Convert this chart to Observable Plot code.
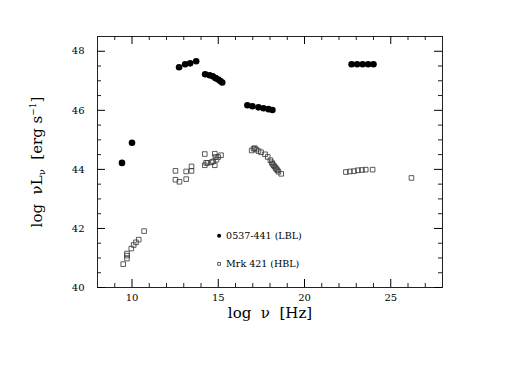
<!DOCTYPE html>
<html><head><meta charset="utf-8">
<script src="https://cdn.jsdelivr.net/npm/d3@7"></script>
<script src="https://cdn.jsdelivr.net/npm/@observablehq/plot@0.6"></script>
<style>body{margin:0;background:#fff}</style>
</head><body><div id="chart"></div>
<script>
// 0537-441 (LBL) — filled circles
const lblNu = [9.42, 10.0, 12.73, 13.08, 13.37, 13.72, 14.24, 14.50, 14.68, 14.85, 15.0, 15.12, 15.23, 16.69, 16.98, 17.33, 17.62, 17.91, 18.14, 22.73, 23.05, 23.37, 23.69, 24.0];
const lblL  = [44.22, 44.90, 47.46, 47.56, 47.59, 47.66, 47.22, 47.19, 47.15, 47.09, 47.04, 46.99, 46.94, 46.17, 46.14, 46.10, 46.07, 46.04, 46.01, 47.56, 47.56, 47.56, 47.56, 47.56];
// Mrk 421 (HBL) — open squares
const hblNu = [9.49, 9.71, 9.71, 9.71, 9.96, 10.10, 10.23, 10.39, 10.70,
  12.52, 12.52, 12.75, 13.14, 13.14, 13.45, 13.45, 14.22, 14.22, 14.30, 14.38, 14.62, 14.70, 14.80, 14.80, 14.84, 14.90, 15.0, 15.16,
  16.94, 17.05, 17.12, 17.21, 17.33, 17.48, 17.71, 17.87, 18.02, 18.10, 18.14, 18.20, 18.26, 18.32, 18.37, 18.43, 18.49, 18.65,
  22.40, 22.63, 22.87, 23.10, 23.33, 23.55, 23.95,
  26.2];
const hblL  = [40.79, 41.15, 41.08, 40.98, 41.32, 41.44, 41.53, 41.62, 41.91,
  43.95, 43.65, 43.58, 43.93, 43.67, 44.10, 43.95, 44.52, 44.14, 44.22, 44.22, 44.24, 44.27, 44.53, 44.14, 44.42, 44.33, 44.42, 44.48,
  44.64, 44.70, 44.72, 44.67, 44.62, 44.58, 44.51, 44.42, 44.31, 44.24, 44.19, 44.14, 44.10, 44.05, 44.01, 43.97, 43.92, 43.85,
  43.91, 43.93, 43.94, 43.97, 43.98, 43.99, 43.99,
  43.71];
// ticks
const xMajor = [10, 15, 20, 25];
const xMinor = [9, 11, 12, 13, 14, 16, 17, 18, 19, 21, 22, 23, 24, 26, 27];
const yMajor = [40, 42, 44, 46, 48];
const yMinor = [40.5, 41, 41.5, 42.5, 43, 43.5, 44.5, 45, 45.5, 46.5, 47, 47.5];
// legend
const legendLabels = ["0537-441 (LBL)", "Mrk 421 (HBL)"];
const legendNu = [15.05, 15.05];
const legendL = [41.75, 40.80];
const xTitle = "log  ν  [Hz]";
const yTitle = "log νLν [erg s-1]";

const lbl = lblNu.map((x, i) => ({x, y: lblL[i]}));
const hbl = hblNu.map((x, i) => ({x, y: hblL[i]}));

const W = 518, H = 365, mL = 97, mR = 76, mT = 36, mB = 78;
const fh = H - mT - mB, fw = W - mL - mR;
const font = "'DejaVu Serif', serif";

const plot = Plot.plot({
  width: W, height: H,
  marginLeft: mL, marginRight: mR, marginTop: mT, marginBottom: mB,
  x: {domain: [8, 28]},
  y: {domain: [40, 48.5]},
  style: {fontFamily: font, fontSize: "10px", background: "#fff", color: "#000"},
  marks: [
    Plot.frame({stroke: "#222", strokeWidth: 1}),
    // inward ticks
    Plot.tickX(xMinor, {x: d => d, insetTop: fh - 4, stroke: "#222"}),
    Plot.tickX(xMinor, {x: d => d, insetBottom: fh - 4, stroke: "#222"}),
    Plot.tickX(xMajor, {x: d => d, insetTop: fh - 8, stroke: "#000"}),
    Plot.tickX(xMajor, {x: d => d, insetBottom: fh - 8, stroke: "#000"}),
    Plot.tickY(yMinor, {y: d => d, insetRight: fw - 4, stroke: "#222"}),
    Plot.tickY(yMinor, {y: d => d, insetLeft: fw - 4, stroke: "#222"}),
    Plot.tickY(yMajor, {y: d => d, insetRight: fw - 8, stroke: "#000"}),
    Plot.tickY(yMajor, {y: d => d, insetLeft: fw - 8, stroke: "#000"}),
    Plot.axisX(xMajor, {tickSize: 0, tickPadding: 6, fontSize: 10, label: null}),
    Plot.axisY(yMajor, {tickSize: 0, tickPadding: 13, fontSize: 10, label: null}),
    // data
    Plot.dot(hbl, {x: "x", y: "y", symbol: "square", r: 2.6, stroke: "#333", strokeWidth: 0.8, fill: "none"}),
    Plot.dot(lbl, {x: "x", y: "y", r: 3.3, fill: "#000", stroke: "none"}),
    // legend
    Plot.dot([0], {x: legendNu[0], y: legendL[0], r: 2, fill: "#000"}),
    Plot.dot([1], {x: legendNu[1], y: legendL[1], symbol: "square", r: 1.6, stroke: "#333", strokeWidth: 0.8, fill: "none"}),
    Plot.text(legendLabels, {x: legendNu, y: legendL, text: d => d, dx: 7, textAnchor: "start", fontSize: 9.5}),
    // axis titles
    Plot.text([xTitle], {frameAnchor: "bottom", dy: 26, text: d => d, fontSize: 15, textAnchor: "middle", lineAnchor: "middle"}),
    Plot.text([yTitle], {frameAnchor: "left", dx: -60, rotate: -90, text: d => d, fontSize: 15, textAnchor: "middle", lineAnchor: "middle"})
  ]
});
document.getElementById("chart").appendChild(plot);

d3.select(plot).selectAll("text").each(function() {
  if (this.textContent === yTitle) {
    this.innerHTML = 'log  ν<tspan>L</tspan><tspan dy="3" font-size="10">ν</tspan><tspan dy="-3">  [erg s</tspan><tspan dy="-6" font-size="9">−1</tspan><tspan dy="6">]</tspan>';
  }
});
</script>
</body></html>
